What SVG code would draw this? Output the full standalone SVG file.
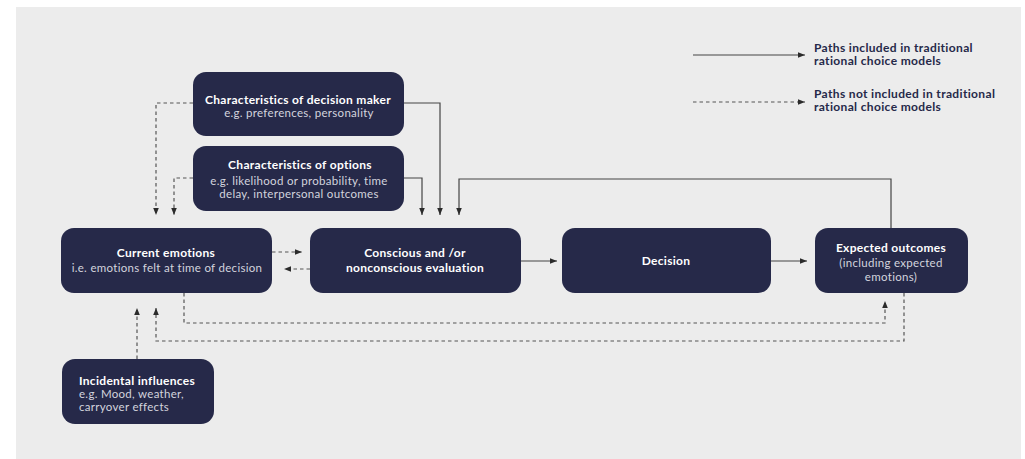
<svg xmlns="http://www.w3.org/2000/svg" width="1025" height="459" viewBox="0 0 1025 459">
<defs>
<marker id="ah" viewBox="0 0 8 8" refX="8" refY="4" markerWidth="7" markerHeight="7" markerUnits="userSpaceOnUse" orient="auto">
<path d="M0,0.8 L8,4 L0,7.2 Z" fill="#2b2b2b"/>
</marker>
<style>
.box{fill:#262949}
.t{font-family:Lato,"Liberation Sans",sans-serif;font-weight:700;font-size:12px;letter-spacing:0.3px;fill:#ffffff;text-anchor:middle}
.s{font-family:Lato,"Liberation Sans",sans-serif;font-weight:400;font-size:11.5px;letter-spacing:0.3px;fill:#d3d4de;text-anchor:middle}
.l{text-anchor:start}
.lg{font-family:Lato,"Liberation Sans",sans-serif;font-weight:700;font-size:12px;letter-spacing:0.35px;fill:#262949}
.sol{fill:none;stroke:#444;stroke-width:1.2;marker-end:url(#ah)}
.dsh{fill:none;stroke:#555;stroke-width:1.2;stroke-dasharray:3.5 3;marker-end:url(#ah)}
</style>
</defs>
<rect x="0" y="0" width="1025" height="459" fill="#ffffff"/>
<rect x="16" y="7" width="1005" height="452" fill="#ececec"/>

<g id="connectors">
<path class="sol" d="M404,103 H440 V215"/>
<path class="sol" d="M404,178 H422 V215"/>
<path class="sol" d="M891,228 V179 H459 V215"/>
<path class="sol" d="M521,261 H557"/>
<path class="sol" d="M771,261 H807"/>
<path class="dsh" d="M193,103 H156 V215"/>
<path class="dsh" d="M193,178 H174 V215"/>
<path class="dsh" d="M272,252 H302"/>
<path class="dsh" d="M310,269 H284"/>
<path class="dsh" d="M184,293 V323 H885 V301"/>
<path class="dsh" d="M904,293 V341 H156 V308"/>
<path class="dsh" d="M137,359 V308"/>
</g>

<g id="legend">
<path class="sol" d="M693,55 H805"/>
<path class="dsh" d="M693,102 H805"/>
<text class="lg" x="814" y="52">Paths included in traditional</text>
<text class="lg" x="814" y="65">rational choice models</text>
<text class="lg" x="814" y="98">Paths not included in traditional</text>
<text class="lg" x="814" y="111">rational choice models</text>
</g>

<g id="node-decision-maker">
<rect class="box" x="193" y="72" width="211" height="64" rx="13"/>
<text class="t" x="298" y="104">Characteristics of decision maker</text>
<text class="s" x="299" y="117">e.g. preferences, personality</text>
</g>

<g id="node-options">
<rect class="box" x="193" y="146" width="211" height="65" rx="13"/>
<text class="t" x="300" y="169">Characteristics of options</text>
<text class="s" x="299" y="185">e.g. likelihood or probability, time</text>
<text class="s" x="299" y="198">delay, interpersonal outcomes</text>
</g>

<g id="node-current-emotions">
<rect class="box" x="61" y="228" width="211" height="65" rx="13"/>
<text class="t" x="166" y="257">Current emotions</text>
<text class="s" x="167" y="272">i.e. emotions felt at time of decision</text>
</g>

<g id="node-evaluation">
<rect class="box" x="310" y="228" width="211" height="65" rx="13"/>
<text class="t" x="415" y="257">Conscious and /or</text>
<text class="t" x="415" y="272">nonconscious evaluation</text>
</g>

<g id="node-decision">
<rect class="box" x="562" y="228" width="209" height="65" rx="13"/>
<text class="t" x="666" y="265">Decision</text>
</g>

<g id="node-expected-outcomes">
<rect class="box" x="815" y="228" width="153" height="65" rx="13"/>
<text class="t" x="891" y="252">Expected outcomes</text>
<text class="s" x="891" y="267">(including expected</text>
<text class="s" x="891" y="281">emotions)</text>
</g>

<g id="node-incidental">
<rect class="box" x="62" y="359" width="152" height="65" rx="13"/>
<text class="t l" x="79" y="385">Incidental influences</text>
<text class="s l" x="79" y="398">e.g. Mood, weather,</text>
<text class="s l" x="79" y="411">carryover effects</text>
</g>
</svg>
